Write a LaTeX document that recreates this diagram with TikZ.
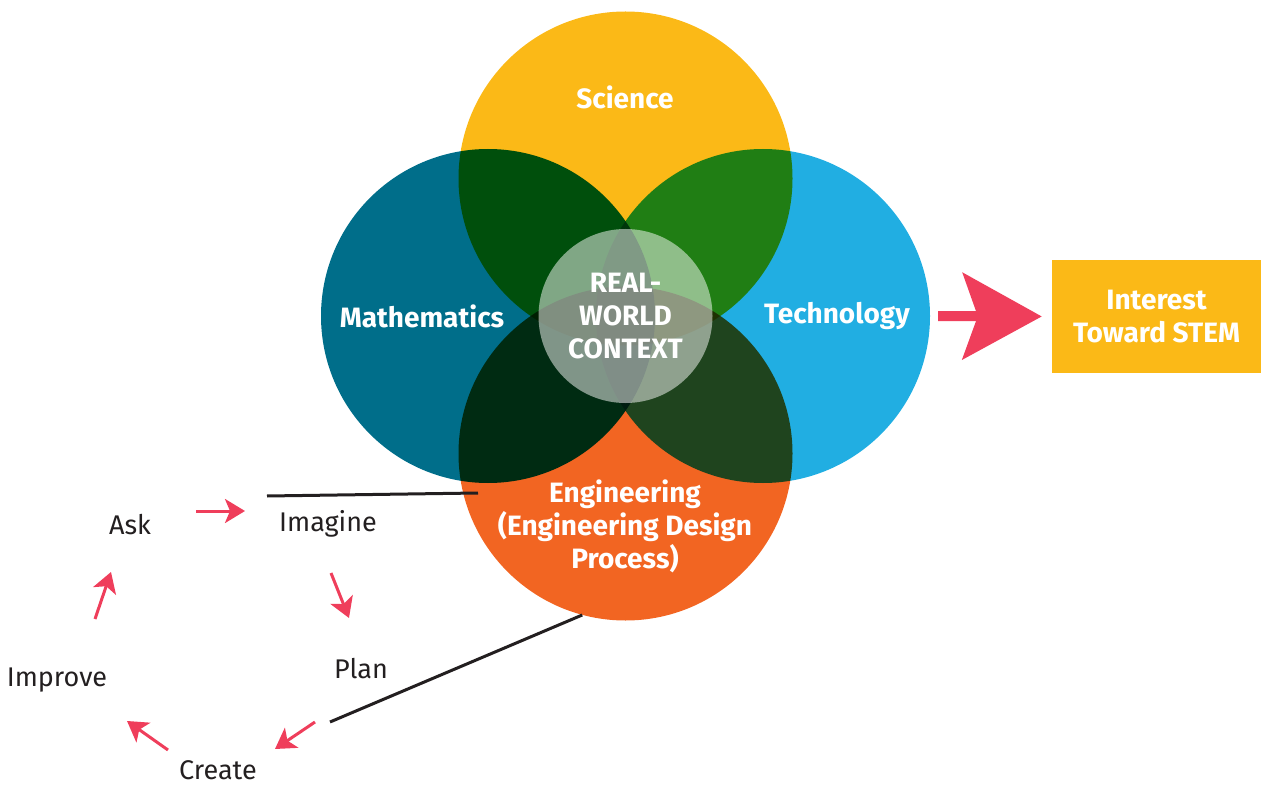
\documentclass[tikz,border=0pt]{standalone}
\usepackage{fontspec}
\setmainfont{Fira Sans}
\usetikzlibrary{arrows.meta}

\definecolor{sciyellow}{HTML}{FBB917}
\definecolor{mathteal}{HTML}{006E8A}
\definecolor{techblue}{HTML}{21AEE2}
\definecolor{engorange}{HTML}{F26522}
\definecolor{pinkred}{HTML}{EF3E5B}
\definecolor{inkblack}{HTML}{231F20}

\begin{document}
\begin{tikzpicture}[
  x=1pt, y=-1pt,
  disc/.style={circle,inner sep=0pt,minimum size=334pt}, % the four subjects
  subject/.style={text=white,align=center,font=\fontsize{28}{33}\selectfont\bfseries},
  stage/.style={text=inkblack,font=\fontsize{27}{30}\selectfont},
  cyc/.style={pinkred,line width=3pt,-{Stealth[length=20pt,width=24pt,inset=5pt]}},
  link/.style={inkblack,line width=3pt}
]
  \useasboundingbox (0,0) rectangle (1261,786);

  % subjects, overlaps come from multiplying
  \begin{scope}[blend group=multiply]
    \node [disc,fill=mathteal] (maths) at (488,316) {};
    \node [disc,fill=techblue] (tech) at (763,316) {};
    \node [disc,fill=sciyellow] (sci) at (625.5,178.5) {};
    \node [disc,fill=engorange] (eng) at (625.5,453.5) {};
  \end{scope}

  \node [subject] (scitext) at (625,97) {Science};
  \node [subject] (mathtext) at (422,316) {Mathematics};
  \node [subject] (techtext) at (837,316) {Technology};
  \node [subject] (engtext) at (625,526) {Engineering\\(Engineering Design\\Process)};
  \node [subject,circle,inner sep=0pt,minimum size=174pt,fill=white,
    fill opacity=.5,text opacity=1] (context) at (625.5,316) {REAL-\\WORLD\\CONTEXT};

  % outcome
  \node [subject,fill=sciyellow,minimum width=209pt,minimum height=113pt]
    (interest) at (1156.5,316.5) {Interest\\Toward STEM};
  \draw [pinkred,line width=10pt,-{Stealth[length=79pt,width=86pt,inset=15pt]},
    shorten <=8pt,shorten >=10pt] (tech.east) -- (interest.west);

  % design cycle
  \node [stage] (ask) at (130,525) {Ask};
  \node [stage] (imagine) at (328,524) {Imagine};
  \node [stage] (plan) at (361,669) {Plan};
  \node [stage] (create) at (218,770) {Create};
  \node [stage] (improve) at (57,680) {Improve};

  \coordinate (askout) at (196,511);
  \coordinate (imaginein) at (245,511);
  \coordinate (imagineout) at (331,573);
  \coordinate (planin) at (349,618);
  \coordinate (planout) at (315,722);
  \coordinate (createin) at (275,749);
  \coordinate (createout) at (168,750);
  \coordinate (improvein) at (127,721);
  \coordinate (improveout) at (95,619);
  \coordinate (askin) at (111,572);

  \draw [cyc] (askout) -- (imaginein);
  \draw [cyc] (imagineout) -- (planin);
  \draw [cyc] (planout) -- (createin);
  \draw [cyc] (createout) -- (improvein);
  \draw [cyc] (improveout) -- (askin);

  % ties to the engineering circle
  \coordinate (cyctop) at (267,496);
  \coordinate (engin) at (478,493);
  \coordinate (cycbottom) at (330,722);
  \draw [link] (cyctop) -- (engin);
  \draw [link] (cycbottom) -- (eng.255);
\end{tikzpicture}
\end{document}
